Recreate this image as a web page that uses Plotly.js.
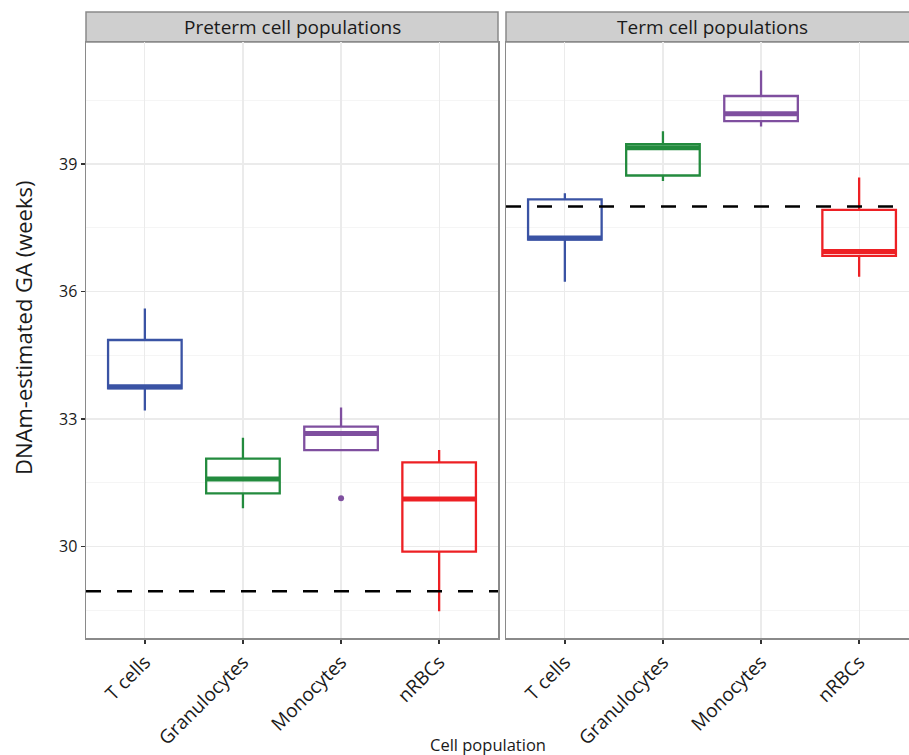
<!DOCTYPE html>
<html>
<head>
<meta charset="utf-8">
<script src="https://cdn.plot.ly/plotly-3.0.1.min.js"></script>
<style>
html, body { margin: 0; padding: 0; overflow: hidden; background: #fff; }
#chart { width: 920px; height: 755px; }
</style>
</head>
<body>
<div id="chart"></div>
<script>
// ---- data ----
const categories = ["T cells", "Granulocytes", "Monocytes", "nRBCs"];
const panelTitles = ["Preterm cell populations", "Term cell populations"];
const colors = ["#3A53A4", "#238B3E", "#7F4F9F", "#ED2024"];

const pretermLower  = [33.20, 30.90, 32.27, 28.48];
const pretermQ1     = [33.72, 31.25, 32.27, 29.88];
const pretermMedian = [33.76, 31.59, 32.66, 31.12];
const pretermQ3     = [34.86, 32.07, 32.82, 31.98];
const pretermUpper  = [35.60, 32.56, 33.27, 32.27];

const termLower  = [36.23, 38.60, 39.88, 36.35];
const termQ1     = [37.22, 38.73, 40.01, 36.84];
const termMedian = [37.26, 39.38, 40.18, 36.94];
const termQ3     = [38.17, 39.47, 40.60, 37.92];
const termUpper  = [38.31, 39.77, 41.20, 38.68];

const outlierCategory = ["Monocytes"];
const outlierPanel = [0];
const outlierValue = [31.14];

const referenceGA = [28.95, 38.0];

const yTicks = [30, 33, 36, 39];

// ---- build ----
const panels = [
  {lower: pretermLower, q1: pretermQ1, med: pretermMedian, q3: pretermQ3, upper: pretermUpper, xa: "x", ya: "y"},
  {lower: termLower, q1: termQ1, med: termMedian, q3: termQ3, upper: termUpper, xa: "x2", ya: "y2"}
];

const traces = [];
panels.forEach(function (p) {
  categories.forEach(function (c, i) {
    traces.push({
      type: "box",
      x: [c],
      q1: [p.q1[i]], median: [p.med[i]], q3: [p.q3[i]],
      lowerfence: [p.lower[i]], upperfence: [p.upper[i]],
      width: 0.75,
      whiskerwidth: 0,
      line: {color: colors[i], width: 2.3},
      fillcolor: "rgba(255,255,255,0)",
      boxpoints: false,
      xaxis: p.xa, yaxis: p.ya,
      hoverinfo: "skip", showlegend: false
    });
    traces.push({
      type: "scatter", mode: "markers",
      x: [c], y: [p.med[i]],
      marker: {symbol: "line-ew", size: 52.5, color: colors[i], line: {color: colors[i], width: 5}},
      xaxis: p.xa, yaxis: p.ya,
      hoverinfo: "skip", showlegend: false
    });
  });
});
outlierValue.forEach(function (v, k) {
  const p = panels[outlierPanel[k]];
  traces.push({
    type: "scatter", mode: "markers",
    x: [outlierCategory[k]], y: [v],
    marker: {symbol: "circle", size: 6, color: colors[categories.indexOf(outlierCategory[k])]},
    xaxis: p.xa, yaxis: p.ya,
    hoverinfo: "skip", showlegend: false
  });
});

const plotW = 832, plotH = 596;
const d1 = 412 / plotW, d2 = 420 / plotW;
const stripH = 30 / plotH;
const FONT = "Open Sans, Noto Sans, sans-serif";

const xCommon = {
  type: "category", categoryarray: categories, categoryorder: "array",
  range: [-0.6, 3.6],
  showgrid: true, gridcolor: "#EBEBEB", gridwidth: 1.2,
  showline: true, mirror: true, linecolor: "#8A8A8A", linewidth: 1.5,
  ticks: "outside", ticklen: 4, tickwidth: 1.5, tickcolor: "#333",
  tickangle: -45, tickfont: {family: FONT, size: 19, color: "#1A1A1A"},
  zeroline: false, fixedrange: true
};
const yCommon = {
  range: [27.85, 41.87],
  tickvals: yTicks,
  showgrid: true, gridcolor: "#EBEBEB", gridwidth: 1.2,
  minor: {dtick: 1.5, tick0: 28.5, showgrid: true, gridcolor: "#F3F3F3", gridwidth: 0.8},
  showline: true, mirror: true, linecolor: "#8A8A8A", linewidth: 1.5,
  zeroline: false, fixedrange: true
};

const shapes = [];
const annotations = [];
[["x", "y"], ["x2", "y2"]].forEach(function (ax, k) {
  shapes.push({
    type: "rect", xref: ax[0] + " domain", yref: "paper",
    x0: 0, x1: 1, y0: 1, y1: 1 + stripH,
    fillcolor: "#CFCFCF", line: {color: "#8A8A8A", width: 1.5}, layer: "below"
  });
  shapes.push({
    type: "line", xref: ax[0] + " domain", yref: ax[1],
    x0: 0, x1: 1, y0: referenceGA[k], y1: referenceGA[k],
    line: {color: "#000", width: 2.5, dash: "15px,16px"}, layer: "above"
  });
  annotations.push({
    text: panelTitles[k], xref: ax[0] + " domain", yref: "paper",
    x: 0.5, y: 1 + stripH / 2, showarrow: false,
    xanchor: "center", yanchor: "middle",
    font: {family: FONT, size: 19, color: "#1A1A1A"}
  });
});
annotations.push({
  text: "Cell population", xref: "paper", yref: "paper",
  x: (488 - 86) / plotW, y: -(744 - 638) / plotH, showarrow: false,
  xanchor: "center", yanchor: "middle",
  font: {family: FONT, size: 16.5, color: "#1A1A1A"}
});
annotations.push({
  text: "DNAm-estimated GA (weeks)", xref: "paper", yref: "paper",
  x: (23 - 86) / plotW, y: (638 - 328) / plotH, showarrow: false,
  xanchor: "center", yanchor: "middle", textangle: -90,
  font: {family: FONT, size: 22, color: "#1A1A1A"}
});

const layout = {
  width: 920, height: 755,
  margin: {l: 86, r: 2, t: 42, b: 117, pad: 0},
  paper_bgcolor: "#fff", plot_bgcolor: "#fff",
  boxmode: "overlay",
  showlegend: false,
  font: {family: FONT},
  xaxis: Object.assign({}, xCommon, {domain: [0, d1], anchor: "y"}),
  xaxis2: Object.assign({}, xCommon, {domain: [d2, 1], anchor: "y2"}),
  yaxis: Object.assign({}, yCommon, {
    anchor: "x", ticks: "outside", ticklen: 4, tickwidth: 1.5, tickcolor: "#333",
    tickfont: {family: FONT, size: 16, color: "#1A1A1A"}
  }),
  yaxis2: Object.assign({}, yCommon, {anchor: "x2", matches: "y", showticklabels: false, ticks: ""}),
  shapes: shapes,
  annotations: annotations
};

Plotly.newPlot("chart", traces, layout, {displayModeBar: false, staticPlot: true});
</script>
</body>
</html>
